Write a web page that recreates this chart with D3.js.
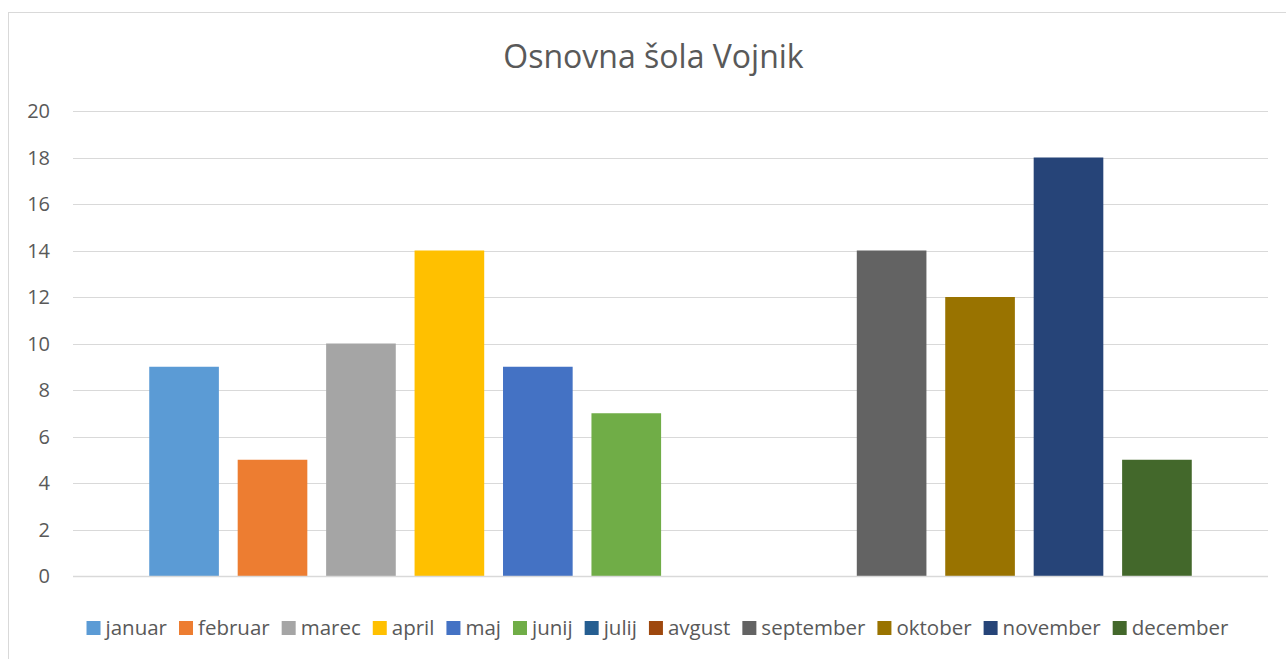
<html>
<head>
<meta charset="UTF-8">
<script src="https://d3js.org/d3.v7.min.js"></script>
<style>
    body { margin: 0; background: #fff; }
    svg { display: block; }
    text { font-family: "Open Sans", sans-serif; fill: #595959; }
</style>
</head>
<body>
<svg width="1286" height="659"></svg>
<script>
    const title = "Osnovna šola Vojnik";
    const months = ["januar", "februar", "marec", "april", "maj", "junij",
                    "julij", "avgust", "september", "oktober", "november", "december"];
    const values = [9, 5, 10, 14, 9, 7, 0, 0, 14, 12, 18, 5];
    const colors = ["#5B9BD5", "#ED7D31", "#A5A5A5", "#FFC000", "#4472C4", "#70AD47",
                    "#255E91", "#9E480E", "#636363", "#997300", "#264478", "#43682B"];
    const yTicks = [0, 2, 4, 6, 8, 10, 12, 14, 16, 18, 20];

    const svg = d3.select("svg");

    // chart border (runs off the right/bottom edge like the screenshot)
    svg.append("rect")
        .attr("x", 8.5).attr("y", 12.5)
        .attr("width", 1300).attr("height", 700)
        .attr("fill", "#fff")
        .attr("stroke", "#d9d9d9");

    const plot = {left: 73, right: 1268, top: 111, bottom: 576};

    const y = d3.scaleLinear().domain([0, 20]).range([plot.bottom, plot.top]);
    const x = d3.scaleBand()
        .domain(months)
        .range([plot.left, plot.right])
        .paddingInner(0.2126)
        .paddingOuter(0.862);

    // gridlines
    svg.append("g")
        .selectAll("line")
        .data(yTicks)
        .enter().append("line")
        .attr("x1", plot.left).attr("x2", plot.right)
        .attr("y1", d => Math.round(y(d)) + 0.5)
        .attr("y2", d => Math.round(y(d)) + 0.5)
        .attr("stroke", "#d9d9d9")
        .attr("stroke-width", 1);

    // y labels
    svg.append("g")
        .selectAll("text")
        .data(yTicks)
        .enter().append("text")
        .attr("x", 50)
        .attr("y", d => y(d))
        .attr("dy", "0.35em")
        .attr("text-anchor", "end")
        .style("font-size", "20px")
        .text(d => d);

    // bars
    svg.append("g")
        .selectAll("rect")
        .data(months)
        .enter().append("rect")
        .attr("x", d => x(d))
        .attr("width", x.bandwidth())
        .attr("y", (d, i) => y(values[i]))
        .attr("height", (d, i) => plot.bottom - y(values[i]))
        .attr("fill", (d, i) => colors[i]);

    // baseline
    svg.append("line")
        .attr("x1", plot.left).attr("x2", plot.right)
        .attr("y1", plot.bottom + 0.5).attr("y2", plot.bottom + 0.5)
        .attr("stroke", "#d9d9d9")
        .attr("stroke-width", 1.5);

    // title
    svg.append("text")
        .attr("x", 653.5)
        .attr("y", 68)
        .attr("text-anchor", "middle")
        .style("font-size", "32px")
        .text(title);

    // legend
    const legend = svg.append("g");
    const items = legend.selectAll("g")
        .data(months)
        .enter().append("g");
    items.append("rect")
        .attr("width", 14).attr("height", 14)
        .attr("y", 621)
        .attr("fill", (d, i) => colors[i]);
    items.append("text")
        .attr("y", 635)
        .style("font-size", "20.5px")
        .text(d => d);

    let widths = [];
    items.select("text").each(function () { widths.push(this.getComputedTextLength()); });
    const sqW = 14, sqGap = 5, itemGap = 12;
    const total = d3.sum(widths) + months.length * (sqW + sqGap) + (months.length - 1) * itemGap;
    let cx = 657.5 - total / 2;
    items.each(function (d, i) {
        const g = d3.select(this);
        g.select("rect").attr("x", cx);
        g.select("text").attr("x", cx + sqW + sqGap);
        cx += sqW + sqGap + widths[i] + itemGap;
    });
</script>
</body>
</html>
